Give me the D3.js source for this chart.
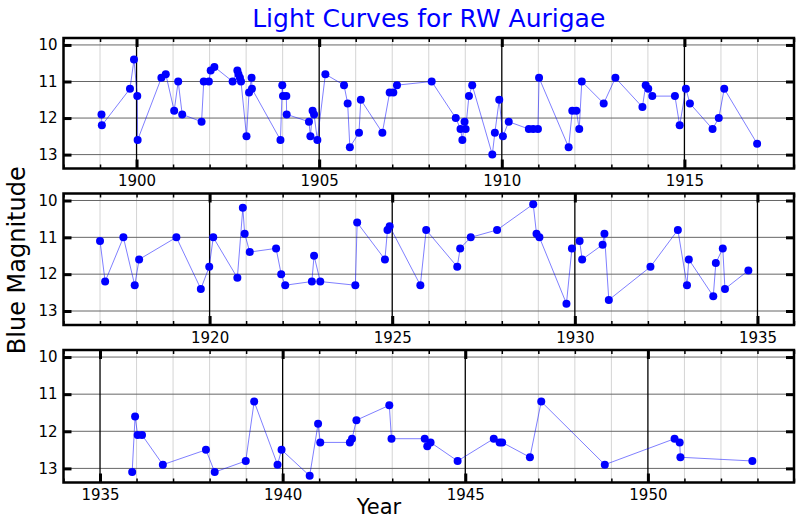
<!DOCTYPE html>
<html>
<head>
<meta charset="utf-8">
<script src="https://cdn.jsdelivr.net/npm/d3@7/dist/d3.min.js"></script>
<style>
  html, body { margin: 0; padding: 0; background: #fff; }
  svg { display: block; font-family: "DejaVu Sans", sans-serif; }
</style>
</head>
<body>
<svg id="chart" width="800" height="520"></svg>
<script>
// ---------- data ----------
const title = "Light Curves for RW Aurigae";
const yLabel = "Blue Magnitude";
const xLabel = "Year";

const panelRanges = [[1898, 1918], [1916, 1936], [1934, 1954]];
const magTicks = [10, 11, 12, 13];

const years1 = [1899.04, 1899.05, 1899.82, 1899.93, 1900.02, 1900.03, 1900.68, 1900.80, 1901.03, 1901.14,
  1901.25, 1901.78, 1901.84, 1901.98, 1902.03, 1902.13, 1902.63, 1902.76, 1902.79, 1902.83,
  1902.86, 1903.01, 1903.08, 1903.15, 1903.16, 1903.94, 1903.99, 1904.01, 1904.10, 1904.11,
  1904.72, 1904.76, 1904.82, 1904.86, 1904.95, 1905.17, 1905.68, 1905.78, 1905.84, 1906.09,
  1906.14, 1906.73, 1906.93, 1907.03, 1907.13, 1908.08, 1908.74, 1908.87, 1908.92, 1908.98,
  1909.01, 1909.10, 1909.19, 1909.74, 1909.81, 1909.93, 1910.03, 1910.19, 1910.74, 1910.86,
  1910.99, 1911.02, 1911.83, 1911.93, 1912.04, 1912.12, 1912.19, 1912.79, 1913.11, 1913.85,
  1913.94, 1914.01, 1914.12, 1914.74, 1914.87, 1915.04, 1915.15, 1915.77, 1915.94, 1916.09,
  1916.99];
const mags1 = [11.9, 12.2, 11.2, 10.4, 11.4, 12.6, 10.9, 10.8, 11.8, 11.0,
  11.9, 12.1, 11.0, 11.0, 10.7, 10.6, 11.0, 10.7, 10.8, 10.9,
  11.0, 12.5, 11.3, 10.9, 11.2, 12.6, 11.1, 11.4, 11.4, 11.9,
  12.1, 12.5, 11.8, 11.9, 12.6, 10.8, 11.1, 11.6, 12.8, 12.4,
  11.5, 12.4, 11.3, 11.3, 11.1, 11.0, 12.0, 12.3, 12.6, 12.1,
  12.3, 11.4, 11.1, 13.0, 12.4, 11.5, 12.5, 12.1, 12.3, 12.3,
  12.3, 10.9, 12.8, 11.8, 11.8, 12.3, 11.0, 11.6, 10.9, 11.7,
  11.1, 11.2, 11.4, 11.4, 12.2, 11.2, 11.6, 12.3, 12.0, 11.2,
  12.7];

const years2 = [1917.00, 1917.14, 1917.64, 1917.95, 1918.07, 1919.09, 1919.76, 1919.99, 1920.10, 1920.76,
  1920.91, 1920.96, 1921.10, 1921.82, 1921.96, 1922.07, 1922.80, 1922.86, 1923.03, 1923.99,
  1924.04, 1924.80, 1924.87, 1924.93, 1925.77, 1925.93, 1926.78, 1926.86, 1927.15, 1927.87,
  1928.86, 1928.95, 1929.03, 1929.77, 1929.92, 1930.13, 1930.20, 1930.76, 1930.81, 1930.93,
  1932.07, 1932.82, 1933.07, 1933.12, 1933.79, 1933.86, 1934.05, 1934.11, 1934.75];
const mags2 = [11.1, 12.2, 11.0, 12.3, 11.6, 11.0, 12.4, 11.8, 11.0, 12.1,
  10.2, 10.9, 11.4, 11.3, 12.0, 12.3, 12.2, 11.5, 12.2, 12.3,
  10.6, 11.6, 10.8, 10.7, 12.3, 10.8, 11.8, 11.3, 11.0, 10.8,
  10.1, 10.9, 11.0, 12.8, 11.3, 11.1, 11.6, 11.2, 10.9, 12.7,
  11.8, 10.8, 12.3, 11.6, 12.6, 11.7, 11.3, 12.4, 11.9];

const years3 = [1935.88, 1935.96, 1936.03, 1936.15, 1936.72, 1937.90, 1938.14, 1938.99, 1939.22, 1939.86,
  1939.97, 1940.74, 1940.97, 1941.03, 1941.84, 1941.90, 1942.02, 1942.92, 1942.98, 1943.89,
  1943.96, 1944.05, 1944.79, 1945.78, 1945.94, 1946.01, 1946.77, 1947.08, 1948.82, 1950.73,
  1950.87, 1950.89, 1952.86];
const mags3 = [13.1, 11.6, 12.1, 12.1, 12.9, 12.5, 13.1, 12.8, 11.2, 12.9,
  12.5, 13.2, 11.8, 12.3, 12.3, 12.2, 11.7, 11.3, 12.2, 12.2,
  12.4, 12.3, 12.8, 12.2, 12.3, 12.3, 12.7, 11.2, 12.9, 12.2,
  12.3, 12.7, 12.8];

const seriesYears = [years1, years2, years3];
const seriesMags = [mags1, mags2, mags3];

// ---------- layout ----------
const svg = d3.select("#chart");
const plotLeft = 63.5, plotRight = 794;
const panelBoxes = [[38, 168.5], [193.5, 325], [350, 482.5]];
const magDomain = [9.81, 13.38];

svg.append("text")
  .attr("x", (plotLeft + plotRight) / 2).attr("y", 27)
  .attr("text-anchor", "middle")
  .attr("font-size", 25).attr("fill", "#0000ff")
  .text(title);

svg.append("text")
  .attr("transform", `translate(25,${(panelBoxes[0][0] + panelBoxes[2][1]) / 2}) rotate(-90)`)
  .attr("text-anchor", "middle")
  .attr("font-size", 24).attr("fill", "#000")
  .text(yLabel);

svg.append("text")
  .attr("x", 379).attr("y", 514)
  .attr("text-anchor", "middle")
  .attr("font-size", 21).attr("fill", "#000")
  .text(xLabel);

panelRanges.forEach((range, i) => {
  const [top, bottom] = panelBoxes[i];
  const x = d3.scaleLinear().domain(range).range([plotLeft, plotRight]);
  const y = d3.scaleLinear().domain(magDomain).range([top, bottom]);
  const g = svg.append("g");

  const years = d3.range(range[0], range[1] + 1);
  const minorYears = years.filter(v => v % 5 !== 0);
  const majorYears = years.filter(v => v % 5 === 0);

  // minor vertical grid
  g.append("g").selectAll("line").data(minorYears).join("line")
    .attr("x1", d => x(d)).attr("x2", d => x(d))
    .attr("y1", top).attr("y2", bottom)
    .attr("stroke", "#d4d4d4").attr("stroke-width", 1);
  // horizontal grid
  g.append("g").selectAll("line").data(magTicks).join("line")
    .attr("x1", plotLeft).attr("x2", plotRight)
    .attr("y1", d => y(d)).attr("y2", d => y(d))
    .attr("stroke", "#666").attr("stroke-width", 1);
  // major vertical grid
  g.append("g").selectAll("line").data(majorYears).join("line")
    .attr("x1", d => x(d)).attr("x2", d => x(d))
    .attr("y1", top).attr("y2", bottom)
    .attr("stroke", "#000").attr("stroke-width", 1.3);

  // data line and points
  const pts = seriesYears[i].map((yr, k) => [yr, seriesMags[i][k]]);
  g.append("path")
    .datum(pts)
    .attr("fill", "none")
    .attr("stroke", "#0000ff").attr("stroke-opacity", 0.5).attr("stroke-width", 1)
    .attr("d", d3.line().x(d => x(d[0])).y(d => y(d[1])));
  g.append("g").selectAll("circle").data(pts).join("circle")
    .attr("cx", d => x(d[0])).attr("cy", d => y(d[1]))
    .attr("r", 4).attr("fill", "#0000ff");

  // axes
  const styleAxis = (sel, width) => {
    sel.select(".domain").remove();
    sel.selectAll(".tick line").attr("stroke", "#000").attr("stroke-width", width);
    sel.selectAll(".tick text").attr("fill", "#000").attr("font-size", 15)
      .attr("font-family", "DejaVu Sans, sans-serif");
  };
  g.append("g").attr("transform", `translate(0,${bottom})`)
    .call(d3.axisBottom(x).tickValues(minorYears).tickSize(-4).tickFormat(""))
    .call(s => styleAxis(s, 1.5));
  g.append("g").attr("transform", `translate(0,${top})`)
    .call(d3.axisTop(x).tickValues(minorYears).tickSize(-4).tickFormat(""))
    .call(s => styleAxis(s, 1.5));
  g.append("g").attr("transform", `translate(0,${bottom})`)
    .call(d3.axisBottom(x).tickValues(majorYears).tickSize(-9).tickPadding(7).tickFormat(d3.format("d")))
    .call(s => styleAxis(s, 3));
  g.append("g").attr("transform", `translate(0,${top})`)
    .call(d3.axisTop(x).tickValues(majorYears).tickSize(-9).tickFormat(""))
    .call(s => styleAxis(s, 3));
  g.append("g").attr("transform", `translate(${plotLeft},0)`)
    .call(d3.axisLeft(y).tickValues(magTicks).tickSize(-8).tickPadding(6).tickFormat(d3.format("d")))
    .call(s => styleAxis(s, 3));
  g.append("g").attr("transform", `translate(${plotRight},0)`)
    .call(d3.axisRight(y).tickValues(magTicks).tickSize(-8).tickFormat(""))
    .call(s => styleAxis(s, 3));

  // frame
  g.append("rect")
    .attr("x", plotLeft).attr("y", top)
    .attr("width", plotRight - plotLeft).attr("height", bottom - top)
    .attr("fill", "none").attr("stroke", "#000").attr("stroke-width", 2.5);
});
</script>
</body>
</html>
